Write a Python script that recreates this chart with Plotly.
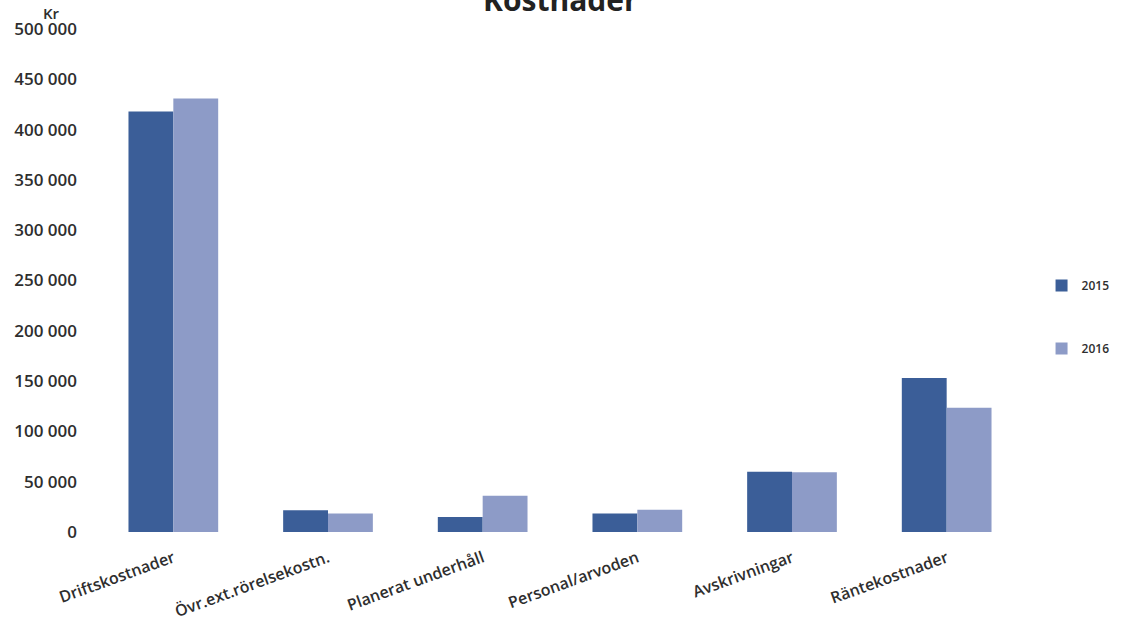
import plotly.graph_objects as go

categories = ["Driftskostnader", "Övr.ext.rörelsekostn.", "Planerat underhåll",
              "Personal/arvoden", "Avskrivningar", "Räntekostnader"]
values_2015 = [418000, 21500, 15000, 18500, 60000, 153000]
values_2016 = [431000, 18500, 36000, 22000, 59500, 123500]
y_ticks = [0, 50000, 100000, 150000, 200000, 250000, 300000, 350000, 400000, 450000, 500000]
y_tick_labels = ["0", "50 000", "100 000", "150 000", "200 000", "250 000",
                 "300 000", "350 000", "400 000", "450 000", "500 000"]

FONT = "Open Sans"
TXT = "#2e2e2e"
fig = go.Figure()
fig.add_trace(go.Bar(name="2015", x=categories, y=values_2015,
                     marker=dict(color="#3B5E98", line=dict(width=0)), legendgroup="a"))
fig.add_trace(go.Bar(name="2016", x=categories, y=values_2016,
                     marker=dict(color="#8D9BC7", line=dict(width=0)), legendgroup="b"))

fig.update_layout(
    width=1126, height=630,
    margin=dict(l=96, r=102, t=29, b=98, autoexpand=False),
    paper_bgcolor="white", plot_bgcolor="white",
    barmode="group", bargap=0.42, bargroupgap=0,
    showlegend=True,
    legend=dict(xref="container", yref="container", x=0.925, y=0.497,
                yanchor="middle", xanchor="left",
                font=dict(family=FONT, size=12, color=TXT, weight=600),
                tracegroupgap=44, itemwidth=30, bgcolor="rgba(0,0,0,0)"),
    font=dict(family=FONT, color=TXT),
    xaxis=dict(showgrid=False, showline=False, zeroline=False, ticks="",
               tickangle=-20, ticklabelstandoff=13,
               tickfont=dict(family=FONT, size=16, color=TXT, weight=600)),
    yaxis=dict(range=[0, 500000], tickvals=y_ticks, ticktext=y_tick_labels,
               showgrid=False, showline=False, zeroline=False, ticks="",
               ticklabelstandoff=18,
               tickfont=dict(family=FONT, size=17, color=TXT, weight=600)),
)
fig.add_annotation(text="<b>Kostnader</b>", xref="paper", yref="paper", x=0.5, y=1,
                   yanchor="middle", yshift=30, showarrow=False,
                   font=dict(family=FONT, size=30, color="#222"))
fig.add_annotation(text="Kr", xref="paper", yref="paper", x=0, y=1,
                   xanchor="center", yanchor="middle", xshift=-45, yshift=16, showarrow=False,
                   font=dict(family=FONT, size=15, color=TXT, weight=600))
fig.write_html("out.html")
